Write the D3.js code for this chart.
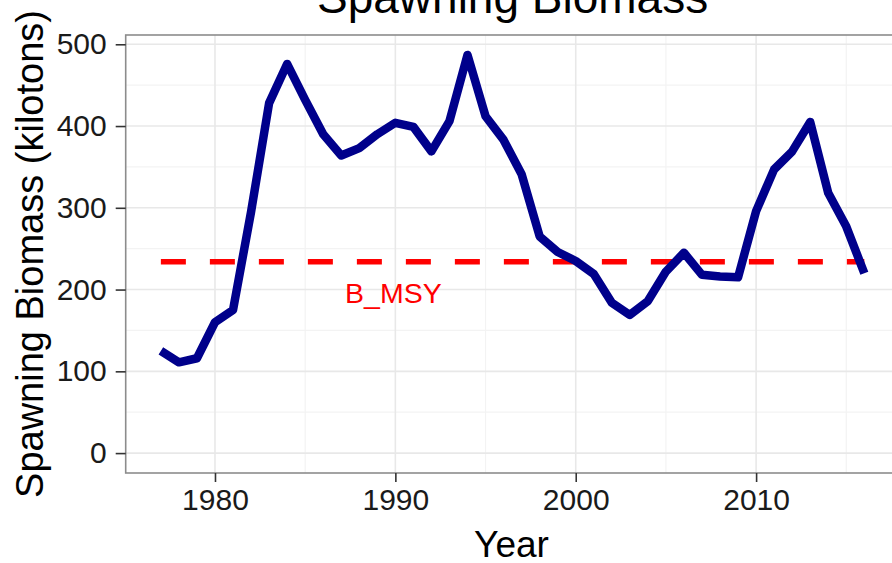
<!DOCTYPE html>
<html>
<head>
<meta charset="utf-8">
<script src="https://cdn.jsdelivr.net/npm/d3@7"></script>
<style>
  html, body { margin: 0; padding: 0; background: #ffffff; }
  svg { display: block; font-family: "Liberation Sans", Arial, Helvetica, sans-serif; }
</style>
</head>
<body>
<svg id="chart" width="892" height="563"></svg>
<script>
// Spawning biomass by year (kilotons)
const years = d3.range(1977, 2017);
const biomass = [
  125, 111, 116, 160, 175, 295, 428, 476, 432, 390,
  364, 373, 390, 404, 399, 369, 406, 487, 412, 383,
  341, 265, 246, 235, 219, 184, 169, 186, 222, 245,
  218, 216, 215, 296, 347, 369, 405, 318, 277, 220
];
// Reference level: biomass at maximum sustainable yield
const bMsy = 234;
const bMsyLabel = "B_MSY";

const xTicks = [1980, 1990, 2000, 2010];
const xMinor = [1985, 1995, 2005, 2015];
const yTicks = [0, 100, 200, 300, 400, 500];
const yMinor = [50, 150, 250, 350, 450];

const titleText = "Spawning Biomass";
const xTitle = "Year";
const yTitle = "Spawning Biomass (kilotons)";

const svg = d3.select("#chart");
const W = 892, H = 563;
const panel = { left: 125.7, top: 35, right: 899.5, bottom: 473 };

// ggplot-style 5% expansion on both axes
const span = d3.max(years) - d3.min(years);
const x = d3.scaleLinear()
  .domain([d3.min(years) - 0.05 * span, d3.max(years) + 0.05 * span])
  .range([panel.left, panel.right]);
const yMax = d3.max(biomass);
const y = d3.scaleLinear()
  .domain([-0.05 * yMax, yMax * 1.05])
  .range([panel.bottom, panel.top]);

svg.append("rect").attr("width", W).attr("height", H).attr("fill", "#ffffff");

const grid = svg.append("g");
// minor grid
grid.selectAll(".ym").data(yMinor).join("line")
  .attr("x1", panel.left).attr("x2", panel.right)
  .attr("y1", d => y(d)).attr("y2", d => y(d))
  .attr("stroke", "#f3f3f3").attr("stroke-width", 1.2);
grid.selectAll(".xm").data(xMinor).join("line")
  .attr("y1", panel.top).attr("y2", panel.bottom)
  .attr("x1", d => x(d)).attr("x2", d => x(d))
  .attr("stroke", "#f3f3f3").attr("stroke-width", 1.2);
// major grid
grid.selectAll(".yM").data(yTicks).join("line")
  .attr("x1", panel.left).attr("x2", panel.right)
  .attr("y1", d => y(d)).attr("y2", d => y(d))
  .attr("stroke", "#e8e8e8").attr("stroke-width", 1.6);
grid.selectAll(".xM").data(xTicks).join("line")
  .attr("y1", panel.top).attr("y2", panel.bottom)
  .attr("x1", d => x(d)).attr("x2", d => x(d))
  .attr("stroke", "#e8e8e8").attr("stroke-width", 1.6);

// B_MSY reference line over the data years
svg.append("path")
  .datum(years)
  .attr("fill", "none")
  .attr("stroke", "#ff0000")
  .attr("stroke-width", 5.5)
  .attr("stroke-dasharray", "25,24")
  .attr("d", d3.line().x(d => x(d)).y(() => y(bMsy)));

svg.append("text")
  .attr("x", x(1990) - 2)
  .attr("y", y(bMsy) + 41)
  .attr("text-anchor", "middle")
  .attr("fill", "#ff0000")
  .attr("font-size", 28.5)
  .text(bMsyLabel);

// biomass series
svg.append("path")
  .datum(years.map((yr, i) => [yr, biomass[i]]))
  .attr("fill", "none")
  .attr("stroke", "#00008b")
  .attr("stroke-width", 8.5)
  .attr("stroke-linejoin", "round")
  .attr("stroke-linecap", "butt")
  .attr("d", d3.line().x(d => x(d[0])).y(d => y(d[1])));

// panel border
svg.append("rect")
  .attr("x", panel.left).attr("y", panel.top)
  .attr("width", panel.right - panel.left).attr("height", panel.bottom - panel.top)
  .attr("fill", "none").attr("stroke", "#8c8c8c").attr("stroke-width", 1.6);

// axes
const xAxis = svg.append("g")
  .attr("transform", `translate(0,${panel.bottom})`)
  .call(d3.axisBottom(x).tickValues(xTicks).tickFormat(d3.format("d")).tickSize(9).tickPadding(7));
const yAxis = svg.append("g")
  .attr("transform", `translate(${panel.left},0)`)
  .call(d3.axisLeft(y).tickValues(yTicks).tickFormat(d3.format("d")).tickSize(10).tickPadding(9));

[xAxis, yAxis].forEach(g => {
  g.select(".domain").remove();
  g.selectAll(".tick line").attr("stroke", "#333333").attr("stroke-width", 1.6);
  g.selectAll(".tick text")
    .attr("fill", "#1a1a1a")
    .attr("font-size", 30)
    .attr("font-family", "'Liberation Sans', Arial, sans-serif");
});

// titles
svg.append("text")
  .attr("x", (panel.left + panel.right) / 2)
  .attr("y", 13)
  .attr("text-anchor", "middle")
  .attr("fill", "#000000")
  .attr("font-size", 46)
  .text(titleText);

svg.append("text")
  .attr("x", 511.5)
  .attr("y", 557)
  .attr("text-anchor", "middle")
  .attr("fill", "#000000")
  .attr("font-size", 37)
  .text(xTitle);

svg.append("text")
  .attr("transform", `translate(43,${(panel.top + panel.bottom) / 2}) rotate(-90)`)
  .attr("text-anchor", "middle")
  .attr("fill", "#000000")
  .attr("font-size", 38)
  .text(yTitle);
</script>
</body>
</html>
